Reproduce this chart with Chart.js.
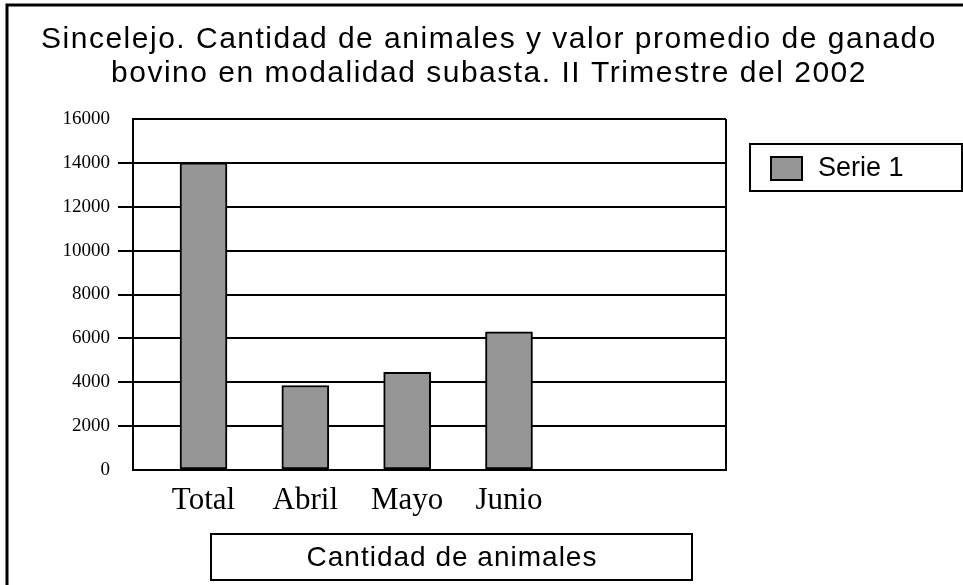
<!DOCTYPE html>
<html lang="es">
<head>
<meta charset="utf-8">
<title>Sincelejo - ganado bovino en subasta</title>
<script src="https://cdn.jsdelivr.net/npm/chart.js@4.4.1/dist/chart.umd.min.js"></script>
<style>
  html, body { margin: 0; padding: 0; background: #fff; }
  canvas { display: block; }
</style>
</head>
<body>
<canvas id="grafico" width="963" height="585"></canvas>
<script>
  const titulo = [
    "Sincelejo. Cantidad de animales y valor promedio de ganado",
    "bovino en modalidad subasta. II Trimestre del 2002"
  ];
  const categorias = ["Total", "Abril", "Mayo", "Junio"];
  const posiciones = [1, 2, 3, 4];
  const valores = [14000, 3850, 4450, 6300];
  const nombreSerie = "Serie 1";
  const tituloEjeX = "Cantidad de animales";
  const yMin = 0, yMax = 16000, yPaso = 2000;

  const SANS = "'Liberation Sans', Arial, sans-serif";
  const SERIF = "'Liberation Serif', 'Times New Roman', serif";
  const GRIS = "#969696";

  // titulo, marco exterior, borde derecho del area, leyenda y caja del titulo del eje
  const decoracion = {
    id: "decoracion",
    afterDraw(chart) {
      const { ctx, chartArea: a } = chart;
      ctx.save();
      ctx.strokeStyle = "#000";
      ctx.fillStyle = "#000";

      ctx.lineWidth = 3;
      ctx.beginPath();
      ctx.moveTo(7, 585);
      ctx.lineTo(7, 5);
      ctx.lineTo(963, 5);
      ctx.stroke();

      ctx.lineWidth = 2;
      ctx.beginPath();
      ctx.moveTo(a.right, a.top);
      ctx.lineTo(a.right, a.bottom);
      ctx.stroke();

      // titulo (espaciado algo amplio como en el original)
      ctx.font = "30px " + SANS;
      ctx.textAlign = "center";
      ctx.textBaseline = "alphabetic";
      ctx.letterSpacing = "1.5px";
      ctx.fillText(titulo[0], 489, 48);
      ctx.fillText(titulo[1], 489, 82);

      // leyenda
      const ds = chart.data.datasets[0];
      ctx.letterSpacing = "0px";
      ctx.strokeRect(750, 144, 212, 47);
      ctx.fillStyle = ds.backgroundColor;
      ctx.fillRect(771, 157, 31, 23);
      ctx.strokeRect(771, 157, 31, 23);
      ctx.fillStyle = "#000";
      ctx.font = "27px " + SANS;
      ctx.textAlign = "left";
      ctx.textBaseline = "middle";
      ctx.fillText(ds.label, 818, 169);

      // titulo del eje x en su caja
      ctx.strokeRect(211, 534, 481, 46);
      ctx.font = "28px " + SANS;
      ctx.letterSpacing = "1px";
      ctx.textAlign = "center";
      ctx.fillText(tituloEjeX, 452, 558);
      ctx.restore();
    }
  };

  new Chart(document.getElementById("grafico"), {
    type: "bar",
    data: {
      datasets: [{
        label: nombreSerie,
        data: posiciones.map((x, i) => ({ x, y: valores[i] })),
        backgroundColor: GRIS,
        borderColor: "#000",
        borderWidth: 2,
        borderSkipped: false,
        barThickness: 47
      }]
    },
    options: {
      responsive: false,
      animation: false,
      layout: { padding: { left: 0, right: 237, top: 119, bottom: 0 } },
      plugins: {
        legend: { display: false },
        tooltip: { enabled: false },
        title: { display: false }
      },
      scales: {
        x: {
          type: "linear",
          offset: false,
          min: 0.3077,
          max: 6.131,
          afterBuildTicks: (s) => { s.ticks = posiciones.map((v) => ({ value: v })); },
          afterFit: (s) => { s.height = 115; },
          grid: { display: false },
          border: { display: true, color: "#000", width: 2 },
          ticks: {
            color: "#000",
            padding: 4,
            autoSkip: false,
            maxRotation: 0,
            font: { family: SERIF, size: 31 },
            callback: (v) => categorias[posiciones.indexOf(v)] ?? ""
          }
        },
        y: {
          min: yMin,
          max: yMax,
          afterFit: (s) => { s.width = 133; },
          grid: {
            color: "#000",
            lineWidth: 2,
            tickLength: 15,
            tickColor: (c) => (c.tick && (c.tick.value === yMax || c.tick.value === yMin)) ? "rgba(0,0,0,0)" : "#000"
          },
          border: { display: true, color: "#000", width: 2 },
          ticks: {
            stepSize: yPaso,
            color: "#000",
            padding: 8,
            font: { family: SERIF, size: 19 },
            callback: (v) => String(v)
          }
        }
      }
    },
    plugins: [decoracion]
  });
</script>
</body>
</html>
